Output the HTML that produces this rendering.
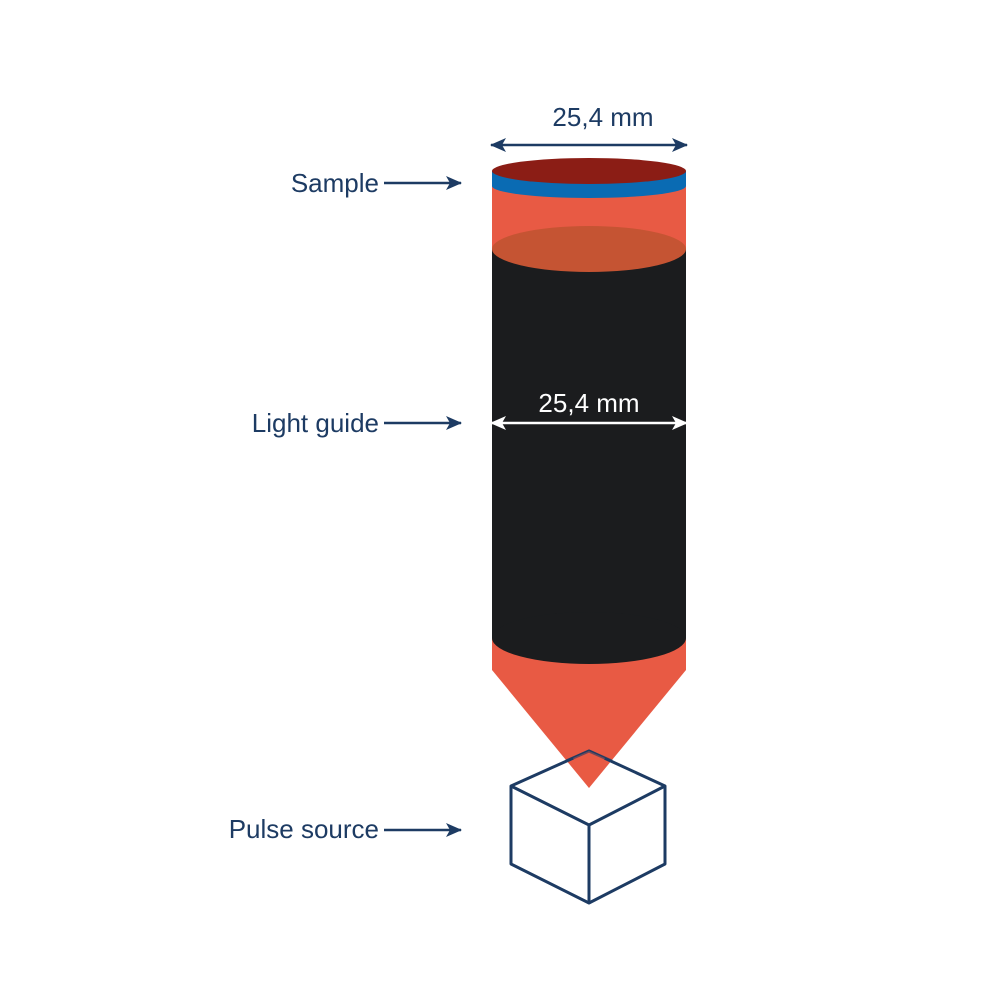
<!DOCTYPE html>
<html><head><meta charset="utf-8"><style>
html,body{margin:0;padding:0;background:#fff;width:1000px;height:1000px;overflow:hidden}
text{font-family:"Liberation Sans",sans-serif}
</style></head><body>
<svg width="1000" height="1000" viewBox="0 0 1000 1000" xmlns="http://www.w3.org/2000/svg">
<defs>
<marker id="an" markerWidth="16" markerHeight="14" refX="15" refY="7" orient="auto-start-reverse" markerUnits="userSpaceOnUse" viewBox="0 0 16 14"><path d="M0,0 L16,7 L0,14 L4,7 Z" fill="#1d3b63"/></marker>
<marker id="aw" markerWidth="16" markerHeight="14" refX="15" refY="7" orient="auto-start-reverse" markerUnits="userSpaceOnUse" viewBox="0 0 16 14"><path d="M0,0 L16,7 L0,14 L4,7 Z" fill="#fff"/></marker>
</defs>
<rect x="492" y="185" width="194" height="70" fill="#e85a44"/>
<rect x="492" y="249" width="194" height="389" fill="#1b1c1e"/>
<path d="M492,638 L686,638 L686,670 L589,788 L492,670 Z" fill="#e85a44"/>
<ellipse cx="589" cy="638" rx="97" ry="26" fill="#1b1c1e"/>
<ellipse cx="589" cy="249" rx="97" ry="23" fill="#c55433"/>
<path d="M492,171 L686,171 L686,186 A97,12 0 0 1 492,186 Z" fill="#0a6bb3"/>
<ellipse cx="589" cy="171" rx="97" ry="13" fill="#8b1d15"/>
<g fill="none" stroke="#1d3b63" stroke-width="3" stroke-linejoin="round">
<path d="M589,751 L665,786 L665,864 L589,903 L511,864 L511,786 Z"/>
<path d="M511,786 L589,825 L665,786 M589,825 L589,903"/>
</g>
<path d="M573,758 L589,751 L605,758 L589,788 Z" fill="#e85a44" opacity="0.8"/>
<path d="M566,761 L589,751 L612,761" fill="none" stroke="#1d3b63" stroke-width="3" opacity="0.5"/>
<line x1="491" y1="145" x2="687" y2="145" stroke="#1d3b63" stroke-width="2.5" marker-start="url(#an)" marker-end="url(#an)"/>
<text x="603" y="126" font-size="26" fill="#1d3b63" text-anchor="middle">25,4 mm</text>
<line x1="491" y1="423" x2="687" y2="423" stroke="#fff" stroke-width="2.5" marker-start="url(#aw)" marker-end="url(#aw)"/>
<text x="589" y="412" font-size="26" fill="#fff" text-anchor="middle">25,4 mm</text>
<g font-size="26" fill="#1d3b63" text-anchor="end">
<text x="379" y="192">Sample</text>
<text x="379" y="432">Light guide</text>
<text x="379" y="838">Pulse source</text>
</g>
<g stroke="#1d3b63" stroke-width="2.5">
<line x1="384" y1="183" x2="461" y2="183" marker-end="url(#an)"/>
<line x1="384" y1="423" x2="461" y2="423" marker-end="url(#an)"/>
<line x1="384" y1="830" x2="461" y2="830" marker-end="url(#an)"/>
</g>
</svg>
</body></html>
